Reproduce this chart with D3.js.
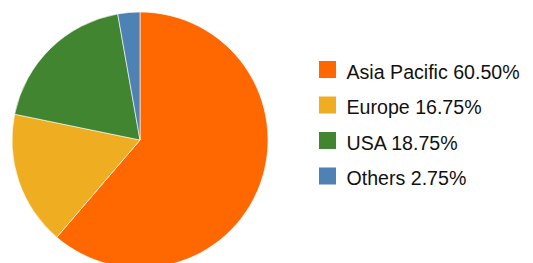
<!DOCTYPE html>
<html>
<head>
<meta charset="utf-8">
<script src="https://cdn.jsdelivr.net/npm/d3@7"></script>
<style>
  html, body { margin: 0; padding: 0; background: #fff; }
  svg { display: block; }
</style>
</head>
<body>
<div id="chart"></div>
<script>
(function() {

  var width = 533;
  var height = 263;

  // data
  var regions = ["Asia Pacific", "Europe", "USA", "Others"];
  var shares = [60.50, 16.75, 18.75, 2.75];
  var labels = ["Asia Pacific 60.50%", "Europe 16.75%", "USA 18.75%", "Others 2.75%"];
  var colors = ["#ff6700", "#efae22", "#418530", "#4f82b4"];

  var data = regions.map(function(r, i) {
    return { region: r, value: shares[i], label: labels[i] };
  });

  var color = d3.scaleOrdinal().domain(regions).range(colors);

  var svg = d3.select("#chart")
    .append("svg")
    .attr("width", width)
    .attr("height", height);

  // pie - keeps the data order, clockwise from 12 o'clock
  var pie = d3.pie()
    .sort(null)
    .value(function(d) { return d.value; });

  var arc = d3.arc()
    .innerRadius(0)
    .outerRadius(128);

  var g = svg.append("g")
    .attr("transform", "translate(140,140)");

  g.selectAll(".slice")
    .data(pie(data))
    .enter().append("path")
    .attr("class", "slice")
    .attr("d", arc)
    .attr("fill", function(d) { return color(d.data.region); })
    .attr("stroke", "#fff")
    .attr("stroke-width", 0.6);

  // legend
  var rowY = d3.scalePoint()
    .domain(regions)
    .range([61, 167.5]);

  var legend = svg.selectAll(".legend")
    .data(data)
    .enter().append("g")
    .attr("class", "legend")
    .attr("transform", function(d) {
      return "translate(319," + rowY(d.region) + ")";
    });

  legend.append("rect")
    .attr("width", 17)
    .attr("height", 17)
    .attr("fill", function(d) { return color(d.region); });

  legend.append("text")
    .attr("x", 27.5)
    .attr("y", 17.5)
    .attr("font-family", "'Liberation Sans', Arial, sans-serif")
    .attr("font-size", "19.6px")
    .attr("fill", "#111")
    .text(function(d) { return d.label; });

})();
</script>
</body>
</html>
